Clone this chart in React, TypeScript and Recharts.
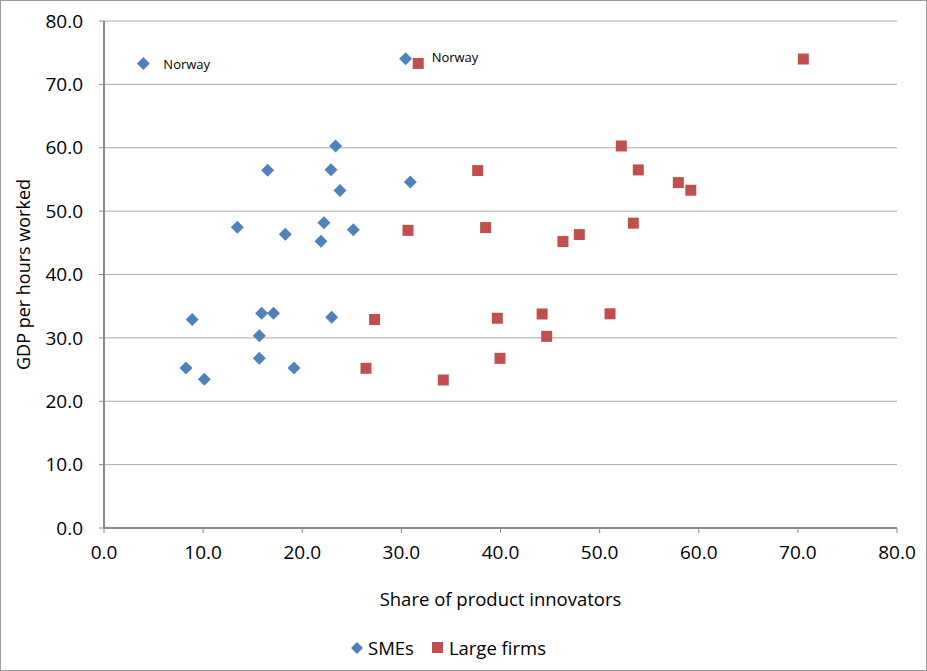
import { ScatterChart, Scatter, XAxis, YAxis, CartesianGrid, Legend } from 'recharts'

const smeX = [3.97, 30.43, 23.37, 16.51, 22.9, 23.81, 30.9, 13.45, 18.29, 22.19, 21.89, 25.15, 8.9, 15.9, 17.1, 22.97, 15.67, 15.67, 8.27, 10.12, 19.17]
const smeY = [73.3, 74.05, 60.28, 56.44, 56.54, 53.25, 54.6, 47.45, 46.34, 48.17, 45.24, 47.07, 32.9, 33.9, 33.9, 33.25, 30.35, 26.77, 25.25, 23.46, 25.25]
const smeLabels = ['Norway', 'Norway', '', '', '', '', '', '', '', '', '', '', '', '', '', '', '', '', '', '', '']

const largeX = [31.7, 70.55, 52.19, 37.7, 53.9, 57.94, 59.2, 30.67, 38.5, 47.95, 46.3, 53.4, 27.3, 39.68, 44.2, 51.05, 44.66, 39.95, 26.43, 34.23]
const largeY = [73.3, 74.0, 60.28, 56.4, 56.5, 54.5, 53.3, 46.97, 47.4, 46.3, 45.2, 48.1, 32.9, 33.1, 33.77, 33.8, 30.24, 26.77, 25.2, 23.35]

const ticks = [0, 10, 20, 30, 40, 50, 60, 70, 80]

const smeData = smeX.map((x, i) => ({ x, y: smeY[i], label: smeLabels[i] }))
const largeData = largeX.map((x, i) => ({ x, y: largeY[i] }))

const FONT = '"Open Sans", sans-serif'
const BLUE = '#4F81BD'
const RED = '#C0504D'

const labelOffsets = [
  { dx: 20, dy: 1 },
  { dx: 26, dy: -1.5 },
]

function Diamond(props: any) {
  const { cx, cy, payload, index } = props
  const r = 6.5
  const off = labelOffsets[index] || { dx: 20, dy: 0 }
  return (
    <g>
      <polygon points={`${cx},${cy - r} ${cx + r},${cy} ${cx},${cy + r} ${cx - r},${cy}`} fill={BLUE} />
      {payload && payload.label ? (
        <text x={cx + off.dx} y={cy + off.dy} fontSize={13} fontFamily={FONT} fill="#000" dominantBaseline="central">
          {payload.label}
        </text>
      ) : null}
    </g>
  )
}

function Square(props: any) {
  const { cx, cy } = props
  const s = 11
  return <rect x={cx - s / 2} y={cy - s / 2} width={s} height={s} fill={RED} />
}

function LegendBox() {
  return (
    <div style={{ height: 43, display: 'flex', justifyContent: 'center', alignItems: 'center', fontFamily: FONT, fontSize: 18.5, color: '#000', paddingBottom: 4, boxSizing: 'border-box' }}>
      <svg width={12} height={12} style={{ marginRight: 5 }}>
        <polygon points="6,0 12,6 6,12 0,6" fill={BLUE} />
      </svg>
      <span style={{ marginRight: 18 }}>SMEs</span>
      <svg width={11} height={11} style={{ marginRight: 6 }}>
        <rect x={0} y={0} width={11} height={11} fill={RED} />
      </svg>
      <span>Large firms</span>
    </div>
  )
}

export default function App() {
  const tickStyle = { fontSize: 19, fontFamily: FONT, fill: '#000' }
  return (
    <div style={{ position: 'relative', width: 927, height: 671 }}>
      <style>{'body{margin:0}'}</style>
      <ScatterChart width={927} height={671} margin={{ top: 21, right: 30, bottom: 0, left: 0 }}>
        <CartesianGrid vertical={false} stroke="#ababab" />
        <XAxis
          type="number"
          dataKey="x"
          domain={[0, 80]}
          ticks={ticks}
          tickFormatter={(v: number) => v.toFixed(1)}
          height={100}
          tick={tickStyle}
          tickSize={5}
          tickMargin={13}
          axisLine={{ stroke: '#8a8a8a', strokeWidth: 2 }}
          tickLine={{ stroke: '#8a8a8a' }}
          label={{ value: 'Share of product innovators', position: 'insideBottom', offset: 22, style: { fontSize: 18.5, fontFamily: FONT, fill: '#000' } }}
        />
        <YAxis
          type="number"
          dataKey="y"
          domain={[0, 80]}
          ticks={ticks}
          tickFormatter={(v: number) => v.toFixed(1)}
          width={104}
          tick={tickStyle}
          tickSize={5}
          tickMargin={16}
          axisLine={{ stroke: '#8a8a8a', strokeWidth: 2 }}
          tickLine={{ stroke: '#8a8a8a' }}
          label={{
            content: (p: any) => {
              const vb = p.viewBox || { y: 21, height: 507 }
              const cy = vb.y + vb.height / 2
              return (
                <text x={23} y={cy} transform={`rotate(-90, 23, ${cy})`} textAnchor="middle" dominantBaseline="central" fontSize={18} fontFamily={FONT} fill="#000">
                  GDP per hours worked
                </text>
              )
            },
          }}
        />
        <Legend verticalAlign="bottom" content={() => <LegendBox />} />
        <Scatter name="SMEs" data={smeData} shape={Diamond} isAnimationActive={false} />
        <Scatter name="Large firms" data={largeData} shape={Square} isAnimationActive={false} />
      </ScatterChart>
      <div style={{ position: 'absolute', left: 0, top: 0, width: 927, height: 671, boxSizing: 'border-box', border: '1px solid #9a9a9a', pointerEvents: 'none' }} />
    </div>
  )
}
